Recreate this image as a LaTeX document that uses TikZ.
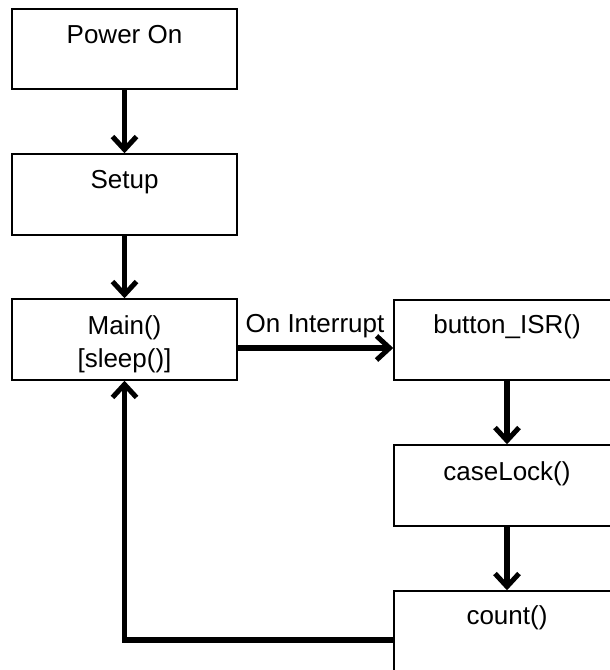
\documentclass[tikz,border=0pt]{standalone}
\usepackage{fontspec}
\setmainfont{Liberation Sans}
\usetikzlibrary{arrows.meta}
\begin{document}
\begin{tikzpicture}[x=1pt,y=-1pt,
  box/.style={draw=black,line width=1.5pt,rectangle,inner sep=0pt,minimum width=225pt,minimum height=81pt},
  txt/.style={anchor=base,inner sep=0pt,align=center,font=\fontsize{26}{33}\selectfont},
  conn/.style={line width=5.5pt,-{Straight Barb[length=13pt,width=24pt,line width=5pt]}}
]
\clip (0,0) rectangle (610,670);
\fill[white] (0,0) rectangle (610,670);
% boxes
\node[box,minimum height=80pt] (pwr) at (124.5,49) {};
\node[box] (setup) at (124.5,194.5) {};
\node[box] (main) at (124.5,339.5) {};
\node[box,minimum width=226pt,minimum height=80pt] (isr) at (507,340) {};
\node[box,minimum width=226pt] (lock) at (507,485.5) {};
\node[box,minimum width=226pt] (count) at (507,631.5) {};
% texts
\node[txt] (pwrT) at (124.5,43) {Power On};
\node[txt] (setupT) at (124.5,188) {Setup};
\node[txt] (mainT) at (124.5,367) {Main()\\{[sleep()]}};
\node[txt] (isrT) at (507,333) {button\_ISR()};
\node[txt] (lockT) at (507,480) {caseLock()};
\node[txt] (countT) at (507,624) {count()};
\node[txt] (intT) at (315,332) {On Interrupt};
% connectors
\draw[conn] (pwr) -- (setup);
\draw[conn] (setup) -- (main);
\draw[conn] ([yshift=-8.5pt]main.east) -- ([yshift=-8.5pt]main.east -| isr.west);
\draw[conn] (isr) -- (lock);
\draw[conn] (lock) -- (count);
\draw[conn] ([yshift=-8.5pt]count.west) -| (main.south);
\end{tikzpicture}
\end{document}
